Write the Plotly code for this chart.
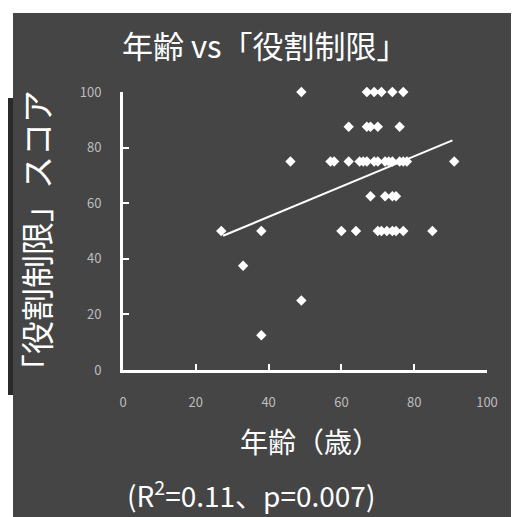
import plotly.graph_objects as go

# Data
age = [49, 67, 69, 71, 74, 77,
       62, 67, 68, 70, 76,
       46, 57, 58, 62, 65, 66, 67, 69, 70, 72, 73, 74, 76, 77, 78, 91,
       68, 72, 74, 75,
       27, 38, 60, 64, 70, 71, 72.5, 74, 75, 77, 85,
       33, 49, 38]
score = [100] * 6 + [87.5] * 5 + [75] * 16 + [62.5] * 4 + [50] * 11 + [37.5, 25, 12.5]

trend_x = [27.5, 90.5]
trend_y = [48.3, 82.6]

tick_vals = [0, 20, 40, 60, 80, 100]
tick_text = ["0", "20", "40", "60", "80", "100"]

title_text = "年齢 vs「役割制限」"
x_title = "年齢（歳）"
y_title = "「役割制限」スコア"
stat_text = "(R<sup>2</sup>=0.11、p=0.007)"

BG = "#454545"
FONT = "Noto Sans CJK JP"

# figure is placed 8px into the page (body margin)
W, H = 511, 509
L, R, T, B = 115, 32, 84, 147
PW, PH = W - L - R, H - T - B


def px(fx):
    return (fx - L) / PW


def py(fy):
    return (H - B - fy) / PH


fig = go.Figure()
fig.add_trace(go.Scatter(
    x=age, y=score, mode="markers", cliponaxis=False,
    marker=dict(symbol="diamond", size=8, color="white", line=dict(width=0)),
    showlegend=False, hoverinfo="skip"))
fig.add_trace(go.Scatter(
    x=trend_x, y=trend_y, mode="lines", cliponaxis=False,
    line=dict(color="white", width=2),
    showlegend=False, hoverinfo="skip"))

axis_common = dict(
    range=[0, 100], showgrid=False, zeroline=False,
    showline=True, linecolor="white", linewidth=3,
    ticks="inside", ticklen=6, tickwidth=2, tickcolor="white",
    tickvals=tick_vals, ticktext=tick_text,
    tickfont=dict(family=FONT, size=13, color="#bdbdbd"),
)

fig.update_layout(
    width=W, height=H,
    margin=dict(l=L, r=R, t=T, b=B),
    paper_bgcolor="white", plot_bgcolor=BG,
    font=dict(family=FONT, color="white"),
    xaxis=dict(**axis_common, ticklabelstandoff=18),
    yaxis=dict(**axis_common, ticklabelstandoff=16),
    shapes=[
        dict(type="rect", xref="paper", yref="paper", layer="below",
             x0=px(5), x1=px(W + 5), y0=py(H + 5), y1=py(5),
             fillcolor=BG, line=dict(width=0)),
        dict(type="rect", xref="paper", yref="paper", layer="below",
             x0=px(0), x1=px(5), y0=py(387), y1=py(90),
             fillcolor="#2a2a2a", line=dict(width=0)),
    ],
    annotations=[
        dict(text=title_text, xref="paper", yref="paper",
             x=px(257), y=py(37),
             showarrow=False, xanchor="center", yanchor="middle",
             font=dict(family=FONT, size=31, color="white")),
        dict(text=x_title, xref="paper", yref="paper",
             x=px(302), y=py(433),
             showarrow=False, xanchor="center", yanchor="middle",
             font=dict(family=FONT, size=28, color="white")),
        dict(text=y_title, xref="paper", yref="paper",
             x=px(28), y=py(231),
             showarrow=False, xanchor="center", yanchor="middle", textangle=-90,
             font=dict(family=FONT, size=33, color="white")),
        dict(text=stat_text, xref="paper", yref="paper",
             x=px(243), y=py(485),
             showarrow=False, xanchor="center", yanchor="middle",
             font=dict(family=FONT, size=28, color="white")),
    ],
)

fig.write_html("out.html")
